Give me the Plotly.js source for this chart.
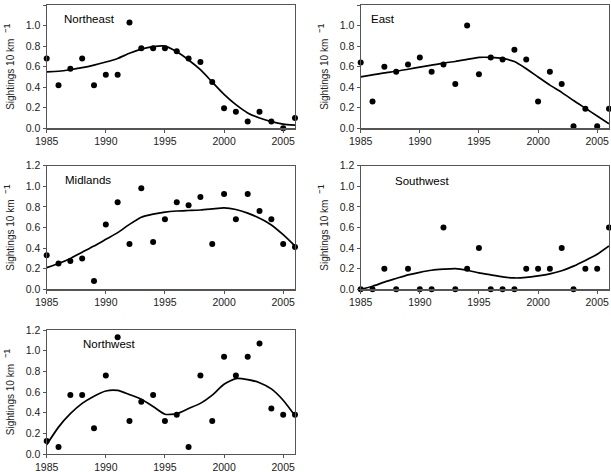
<!DOCTYPE html>
<html>
<head>
<meta charset="utf-8">
<script src="https://cdn.plot.ly/plotly-3.0.1.min.js"></script>
<style>html,body{margin:0;padding:0;background:#fff}#chart{width:611px;height:472px}</style>
</head>
<body>
<div id="chart"></div>
<script>
const years = [1985,1986,1987,1988,1989,1990,1991,1992,1993,1994,1995,1996,1997,1998,1999,2000,2001,2002,2003,2004,2005,2006];
const xTickVals = [1985,1990,1995,2000,2005];
const xTickText = ["1985","1990","1995","2000","2005"];
const yTickVals = [0,0.2,0.4,0.6,0.8,1.0,1.2];
const yTickText = ["0.0","0.2","0.4","0.6","0.8","1.0","1.2"];
const regionNames = ["Northeast","East","Midlands","Southwest","Northwest"];
const yTitleText = "Sightings 10 km  <span style='font-size:14px'>\u207B\u00B9</span>";

const northeastPoints = [0.68,0.42,0.58,0.68,0.42,0.52,0.52,1.03,0.78,0.78,0.78,0.75,0.68,0.645,0.45,0.195,0.16,0.065,0.16,0.065,0.0,0.10];
const northeastTrend  = [0.55,0.555,0.57,0.59,0.615,0.645,0.68,0.73,0.77,0.795,0.80,0.745,0.665,0.57,0.45,0.33,0.23,0.15,0.10,0.065,0.04,0.03];

const eastPoints = [0.64,0.26,0.60,0.55,0.62,0.69,0.55,0.62,0.43,1.00,0.525,0.69,0.67,0.765,0.67,0.26,0.55,0.43,0.02,0.19,0.02,0.19];
const eastTrend  = [0.50,0.52,0.54,0.555,0.575,0.595,0.615,0.635,0.65,0.67,0.69,0.69,0.68,0.65,0.58,0.50,0.42,0.35,0.27,0.195,0.12,0.045];

const midlandsPoints = [0.33,0.25,0.275,0.30,0.08,0.63,0.845,0.44,0.98,0.46,0.68,0.845,0.815,0.895,0.44,0.925,0.68,0.925,0.76,0.68,0.44,0.41];
const midlandsTrend  = [0.21,0.25,0.30,0.36,0.42,0.485,0.55,0.63,0.70,0.73,0.75,0.76,0.765,0.77,0.78,0.79,0.775,0.74,0.69,0.625,0.53,0.42];

const southwestPoints = [0,0,0.2,0,0.2,0,0,0.6,0,0.2,0.4,0,0,0,0.2,0.2,0.2,0.4,0,0.2,0.2,0.6];
const southwestTrend  = [0.0,0.03,0.07,0.105,0.14,0.165,0.185,0.195,0.20,0.185,0.16,0.14,0.12,0.11,0.115,0.13,0.15,0.18,0.225,0.28,0.34,0.42];

const northwestPoints = [0.125,0.068,0.57,0.57,0.25,0.76,1.13,0.32,0.505,0.57,0.32,0.38,0.068,0.76,0.32,0.94,0.76,0.94,1.07,0.44,0.38,0.38];
const northwestTrend  = [0.09,0.26,0.39,0.49,0.56,0.61,0.615,0.575,0.53,0.46,0.385,0.39,0.44,0.49,0.57,0.675,0.73,0.72,0.69,0.63,0.52,0.37];

const pointsList = [northeastPoints,eastPoints,midlandsPoints,southwestPoints,northwestPoints];
const trendList = [northeastTrend,eastTrend,midlandsTrend,southwestTrend,northwestTrend];

const W = 611, H = 472;
const panels = [
  {x0:46.7, x1:295, y0:5, y1:128.3, lx:1986.3, ly:1.064},
  {x0:360.7, x1:609, y0:5, y1:128.3, lx:1985.73, ly:1.064},
  {x0:46.7, x1:295, y0:165.7, y1:289.3, lx:1986.4, ly:1.061},
  {x0:360.7, x1:609, y0:165.7, y1:289.3, lx:1987.76, ly:1.055},
  {x0:46.7, x1:295, y0:330, y1:454, lx:1987.88, ly:1.065}
];

const narrow = 'Liberation Sans Narrow, Arial Narrow, Liberation Sans, Arial, sans-serif';
const traces = [];
const layout = {
  width: W, height: H,
  margin: {l:0, r:0, t:0, b:0},
  paper_bgcolor: '#fff', plot_bgcolor: '#fff',
  showlegend: false,
  font: {family: narrow, size: 10.5, color: '#222'},
  annotations: []
};

panels.forEach((p, i) => {
  const n = i + 1;
  const xa = n === 1 ? 'x' : 'x' + n;
  const ya = n === 1 ? 'y' : 'y' + n;
  const xKey = n === 1 ? 'xaxis' : 'xaxis' + n;
  const yKey = n === 1 ? 'yaxis' : 'yaxis' + n;
  traces.push({
    x: years, y: trendList[i], xaxis: xa, yaxis: ya, type: 'scatter', mode: 'lines',
    line: {color: '#000', width: 1.7, shape: 'spline', smoothing: 0.6},
    cliponaxis: false, hoverinfo: 'skip'
  });
  traces.push({
    x: years, y: pointsList[i], xaxis: xa, yaxis: ya, type: 'scatter', mode: 'markers',
    marker: {color: '#000', size: 6},
    cliponaxis: false
  });
  layout[xKey] = {
    domain: [p.x0 / W, p.x1 / W], anchor: ya,
    range: [1985, 2006], tickmode: 'array', tickvals: xTickVals, ticktext: xTickText,
    ticks: 'outside', ticklen: 3, tickcolor: '#555', showgrid: false, zeroline: false,
    showline: true, linecolor: '#555', linewidth: 1.2, mirror: true,
    tickfont: {family: narrow, size: 10.5, color: '#222'}
  };
  layout[yKey] = {
    domain: [1 - p.y1 / H, 1 - p.y0 / H], anchor: xa,
    range: [0, 1.2], tickmode: 'array', tickvals: yTickVals, ticktext: yTickText,
    ticks: 'outside', ticklen: 3, tickcolor: '#555', showgrid: false, zeroline: false,
    showline: true, linecolor: '#555', linewidth: 1.2, mirror: true,
    tickfont: {family: narrow, size: 10.5, color: '#222'},
    title: {text: yTitleText, font: {family: narrow, size: 10, color: '#222'}, standoff: 9}
  };
  layout.annotations.push({
    x: p.lx, y: p.ly, xref: xa, yref: ya, text: regionNames[i], showarrow: false,
    xanchor: 'left', yanchor: 'middle',
    font: {family: 'Liberation Sans, Arial, sans-serif', size: 11.5, color: '#000'}
  });
});

Plotly.newPlot('chart', traces, layout, {displayModeBar: false, staticPlot: true});
</script>
</body>
</html>
